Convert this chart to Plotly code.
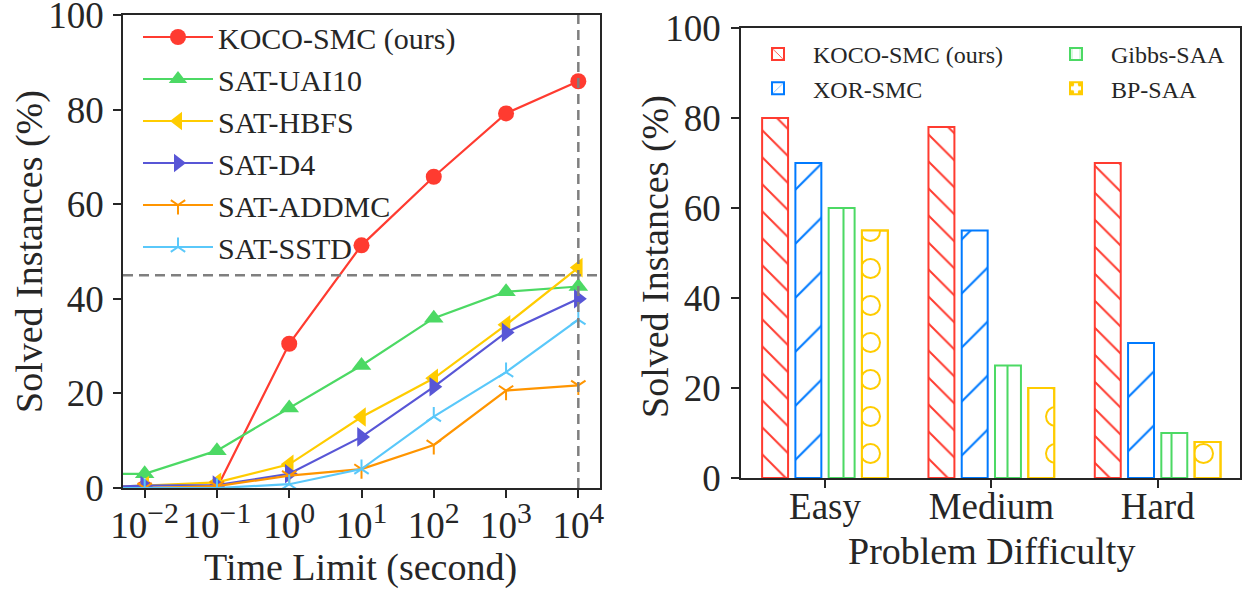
import plotly.graph_objects as go

# ---------------- data ----------------
time_limits = [1e-3, 1e-2, 1e-1, 1e0, 1e1, 1e2, 1e3, 1e4]
koco_line = [0, 0, 0, 30.5, 51.3, 65.8, 79.2, 86.0]
sat_uai10 = [3.0, 3.0, 7.9, 16.9, 25.9, 35.9, 41.5, 42.6]
sat_hbfs = [0, 0.5, 1.2, 5.0, 15.0, 23.2, 34.5, 46.6]
sat_d4 = [0, 0.5, 0.6, 3.0, 10.8, 21.4, 32.9, 40.0]
sat_addmc = [0, 0, 0.4, 2.6, 4.0, 9.1, 20.6, 21.7]
sat_sstd = [0, 0, 0, 0.8, 4.0, 15.1, 24.5, 35.6]
x_tick_vals = [1e-2, 1e-1, 1e0, 1e1, 1e2, 1e3, 1e4]
x_tick_exps = ["−2", "−1", "0", "1", "2", "3", "4"]
threshold_y = 45
threshold_x = 1e4

difficulty = ["Easy", "Medium", "Hard"]
koco_bar = [80, 78, 70]
xor_smc = [70, 55, 30]
gibbs_saa = [60, 25, 10]
bp_saa = [55, 20, 8]
y_ticks = [0, 20, 40, 60, 80, 100]

x_tick_text = ["10<sup><span style='font-size:1.15em'>%s</span></sup>" % e for e in x_tick_exps]

# ---------------- style ----------------
FONT = "Liberation Serif"
TXT = "#262626"
RED = "#FF3B30"
GREEN = "#4CD964"
YELLOW = "#FFCC00"
INDIGO = "#5856D6"
ORANGE = "#FF9500"
SKY = "#5AC8FA"
BLUE = "#007AFF"
W, H = 1249, 590

fig = go.Figure()

line_series = [
    ("KOCO-SMC (ours)", koco_line, RED, "circle", 16),
    ("SAT-UAI10", sat_uai10, GREEN, "triangle-up", 17),
    ("SAT-HBFS", sat_hbfs, YELLOW, "triangle-left", 17),
    ("SAT-D4", sat_d4, INDIGO, "triangle-right", 17),
    ("SAT-ADDMC", sat_addmc, ORANGE, "y-down", 12),
    ("SAT-SSTD", sat_sstd, SKY, "y-up", 12),
]
for i, (name, vals, col, sym, sz) in enumerate(line_series):
    open_sym = sym.startswith("y-")
    fig.add_trace(go.Scatter(
        x=time_limits, y=vals, name=name, mode="lines+markers",
        line=dict(color=col, width=2.2),
        marker=dict(symbol=sym, size=sz, color=col,
                    line=dict(color=col, width=2 if open_sym else 0)),
        xaxis="x", yaxis="y", legend="legend", legendgroup=f"l{i}", showlegend=True,
    ))

# vertical threshold line
fig.add_trace(go.Scatter(
    x=[threshold_x, threshold_x], y=[0, 100], mode="lines",
    line=dict(color="#7f7f7f", width=2.5, dash="10px,6px"),
    xaxis="x", yaxis="y", showlegend=False, hoverinfo="skip",
))
fig.add_shape(type="line", xref="x domain", yref="y", x0=0, x1=1,
              y0=threshold_y, y1=threshold_y,
              line=dict(color="#7f7f7f", width=2.5, dash="10px,6px"))

# ---------------- bars ----------------
bar_specs = [
    ("KOCO-SMC (ours)", koco_bar, RED, "\\", 19.1, 0.105, "a", "legend2"),
    ("XOR-SMC", xor_smc, BLUE, "/", 38.2, 0.055, "b", "legend2"),
    ("Gibbs-SAA", gibbs_saa, GREEN, "|", 41, 0.05, "c", "legend3"),
    ("BP-SAA", bp_saa, YELLOW, ".", 37, 0.253, "d", "legend3"),
]
for name, vals, col, shp, sz, sol, og, lg in bar_specs:
    fig.add_trace(go.Bar(
        x=difficulty, y=vals, name=name, offsetgroup=og,
        marker=dict(color="white", line=dict(color=col, width=2),
                    pattern=dict(shape=shp, size=sz, solidity=sol,
                                 fgcolor=col, bgcolor="white", fillmode="replace")),
        xaxis="x2", yaxis="y2", legend=lg, legendgroup="b" + og,
    ))
# inner white dots to turn the BP-SAA dots into rings
fig.add_trace(go.Bar(
    x=difficulty, y=bp_saa, name="BP-SAA rings", offsetgroup="d",
    marker=dict(color="rgba(0,0,0,0)", line=dict(color=YELLOW, width=2),
                pattern=dict(shape=".", size=37, solidity=0.166,
                             fgcolor="white", bgcolor="rgba(0,0,0,0)", fillmode="replace")),
    xaxis="x2", yaxis="y2", showlegend=False, hoverinfo="skip",
))

axis_common = dict(
    showline=True, linecolor=TXT, linewidth=1.5, mirror=True,
    ticks="outside", ticklen=8, tickwidth=1.5, tickcolor=TXT,
    showgrid=False, zeroline=False, automargin=False, ticklabeloverflow="allow",
    tickfont=dict(family=FONT, size=37, color=TXT),
)

legend_common = dict(xref="container", yref="container", xanchor="left", yanchor="top",
                     bgcolor="rgba(0,0,0,0)", borderwidth=0, orientation="v", tracegroupgap=0)

fig.update_layout(
    width=W, height=H,
    margin=dict(l=0, r=0, t=0, b=0, autoexpand=False),
    paper_bgcolor="white", plot_bgcolor="white",
    font=dict(family=FONT, color=TXT),
    barmode="group", bargap=0.2, bargroupgap=0.22,
    xaxis=dict(type="log", domain=[123 / W, 600 / W], range=[-2.3, 4.3],
               tickvals=x_tick_vals, ticktext=x_tick_text, anchor="y",
               ticklabelstandoff=-4, **axis_common),
    yaxis=dict(domain=[1 - 488 / H, 1 - 15 / H], range=[0, 100], tickvals=y_ticks,
               anchor="x", ticklabelstandoff=2, **axis_common),
    xaxis2=dict(domain=[741 / W, 1240 / W], range=[-0.505, 2.495], anchor="y2",
                type="category", ticklabelstandoff=-13, **axis_common),
    yaxis2=dict(domain=[1 - 478 / H, 1 - 28 / H], range=[0, 100], tickvals=y_ticks,
                anchor="x2", ticklabelstandoff=3, **axis_common),
    legend=dict(x=138 / W, y=1 - 11 / H, font=dict(family=FONT, size=30, color=TXT),
                itemwidth=70, **legend_common),
    legend2=dict(x=743 / W, y=1 - 32 / H, font=dict(family=FONT, size=24, color=TXT),
                 itemwidth=60, **legend_common),
    legend3=dict(x=1041 / W, y=1 - 32 / H, font=dict(family=FONT, size=24, color=TXT),
                 itemwidth=60, **legend_common),
    showlegend=True,
)

title_font = dict(family=FONT, size=38, color=TXT)
fig.add_annotation(text="Solved Instances (%)", x=30 / W, y=1 - 252 / H, xref="paper", yref="paper",
                   textangle=-90, showarrow=False, font=title_font, xanchor="center", yanchor="middle")
fig.add_annotation(text="Solved Instances (%)", x=655 / W, y=1 - 257 / H, xref="paper", yref="paper",
                   textangle=-90, showarrow=False, font=title_font, xanchor="center", yanchor="middle")
fig.add_annotation(text="Time Limit (second)", x=360 / W, y=1 - 567 / H, xref="paper", yref="paper",
                   showarrow=False, font=title_font, xanchor="center", yanchor="middle")
fig.add_annotation(text="Problem Difficulty", x=991 / W, y=1 - 551 / H, xref="paper", yref="paper",
                   showarrow=False, font=title_font, xanchor="center", yanchor="middle")

fig.write_html("out.html")
